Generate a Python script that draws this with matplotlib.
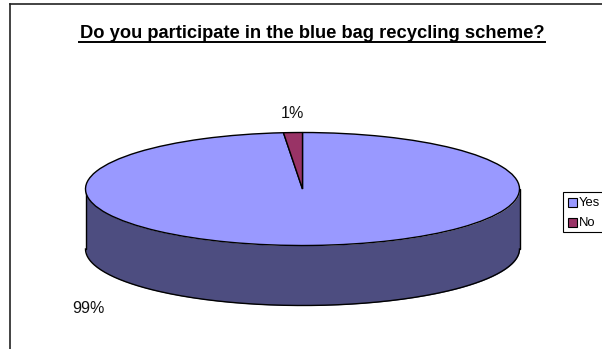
import numpy as np
import matplotlib
matplotlib.use("Agg")
import matplotlib.pyplot as plt
from matplotlib.patches import Rectangle

plt.rcParams['font.family'] = ['Liberation Sans', 'DejaVu Sans']

TITLE = "Do you participate in the blue bag recycling scheme?"
categories = ["Yes", "No"]
values = [98.6, 1.4]
labels = ["99%", "1%"]
colors = ["#9999FF", "#993366"]
side_color = "#4D4D80"
W, H = 602, 349

fig = plt.figure(figsize=(W / 100, H / 100), dpi=100, facecolor="white")

# full-figure overlay in pixel space for frame, title and legend
ov = fig.add_axes([0, 0, 1, 1], zorder=3)
ov.set_xlim(0, W); ov.set_ylim(H, 0); ov.axis("off"); ov.patch.set_alpha(0)

# pie axes: the unit circle maps onto the tilted ellipse
cx, cy, rx, ry, depth = 302.5, 189, 217, 56.5, 60
ax = fig.add_axes([(cx - rx) / W, 1 - (cy + ry) / H, 2 * rx / W, 2 * ry / H], zorder=1)
t = np.linspace(np.pi, 2 * np.pi, 200)
d = depth / ry
ax.fill_between(np.cos(t), np.sin(t), np.sin(t) - d, color=side_color, lw=0, clip_on=False, zorder=0)
ax.plot(np.cos(t), np.sin(t) - d, color="black", lw=1.0, clip_on=False, zorder=1)
ax.plot([-1, -1], [0, -d], color="black", lw=1.0, clip_on=False, zorder=1, solid_capstyle="round")
ax.plot([1, 1], [0, -d], color="black", lw=1.0, clip_on=False, zorder=1, solid_capstyle="round")
ax.pie(values, colors=colors, startangle=90, counterclock=False, radius=1,
       wedgeprops=dict(edgecolor="black", linewidth=1.0, clip_on=False))
ax.set_aspect("auto")
ax.set_xlim(-1, 1); ax.set_ylim(-1, 1)

# frame
ov.plot([10, 10], [H, 4], color="#222222", lw=1.2, clip_on=False)
ov.plot([10, W], [4, 4], color="#222222", lw=1.2, clip_on=False)

# title
ov.text(312, 38.5, TITLE, ha="center", va="baseline", fontsize=13.2, fontweight="bold", color="black")
ov.plot([79, 545], [42, 42], color="black", lw=1.4)

# data labels
ov.text(292, 118, labels[1], ha="center", va="baseline", fontsize=11.6, color="#111111")
ov.text(88, 313, labels[0], ha="center", va="baseline", fontsize=11.6, color="#111111")

# legend
ov.add_patch(Rectangle((563, 191.5), 60, 40, fc="white", ec="black", lw=0.8, clip_on=True))
for y, c, name in zip([202, 222], colors, categories):
    ov.add_patch(Rectangle((567.5, y - 4.5), 9, 9, fc=c, ec="black", lw=0.8))
    ov.text(579, y + 4.5, name, ha="left", va="baseline", fontsize=9.4, color="black", clip_on=True)

fig.savefig("out.png", dpi=100)
